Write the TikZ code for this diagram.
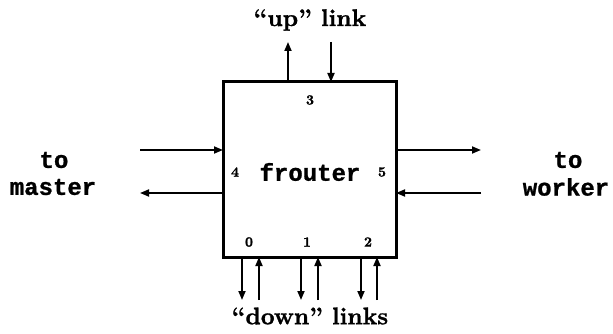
\documentclass[tikz,border=0pt]{standalone}
\usepackage{fontspec}
\newfontfamily\ttbfont{Liberation Mono}[UprightFont=* Bold, FakeBold=1]
\newfontfamily\rmbfont{lmroman10-bold}[Extension=.otf, Ligatures=TeX, FakeBold=1.2]
\usetikzlibrary{arrows.meta}
\begin{document}
\begin{tikzpicture}[x=1pt,y=-1pt,
  link/.style={line width=1.8pt,-{Triangle[length=9pt,width=7pt]}},
  portlbl/.style={font=\fontsize{14}{15}\selectfont\rmbfont,inner sep=0pt},
  ttlbl/.style={font=\fontsize{24}{26}\selectfont\ttbfont,inner sep=0pt},
  rmlbl/.style={font=\fontsize{24}{26}\selectfont\rmbfont,inner sep=0pt}]
\useasboundingbox (0,0) rectangle (613,334);
\node[draw,line width=3pt,minimum width=173pt,minimum height=175pt,inner sep=0pt] (box) at (309.5,169.5) {};
\node[ttlbl] (name) at (310,172) {frouter};
\node[portlbl] (p3) at (310,100) {3};
\node[portlbl] (p4) at (235,172) {4};
\node[portlbl] (p5) at (382,172) {5};
\node[portlbl] (p0) at (249,242) {0};
\node[portlbl] (p1) at (307,242) {1};
\node[portlbl] (p2) at (368,242) {2};
% top
\coordinate (u1a) at (288,82); \coordinate (u1b) at (288,42);
\coordinate (u2a) at (331,42); \coordinate (u2b) at (331,82);
\draw[link] (u1a) -- (u1b);
\draw[link] (u2a) -- (u2b);
\node[rmlbl] (up) at (310,20) {“up” link};
% bottom
\foreach \x/\n in {242/a,301/b,361/c}{
  \coordinate (d\n1) at (\x,257); \coordinate (d\n2) at (\x,300);
  \draw[link] (d\n1) -- (d\n2);
}
\foreach \x/\n in {259/a,318/b,377/c}{
  \coordinate (e\n1) at (\x,300); \coordinate (e\n2) at (\x,257);
  \draw[link] (e\n1) -- (e\n2);
}
\node[rmlbl] (down) at (310,316) {“down” links};
% left
\coordinate (l1a) at (140,150); \coordinate (l1b) at (223,150);
\coordinate (l2a) at (223,193); \coordinate (l2b) at (140,193);
\draw[link] (l1a) -- (l1b);
\draw[link] (l2a) -- (l2b);
\node[ttlbl] (to1) at (54,160) {to};
\node[ttlbl] (master) at (53,187) {master};
% right
\coordinate (r1a) at (396,150); \coordinate (r1b) at (481,150);
\coordinate (r2a) at (481,193); \coordinate (r2b) at (396,193);
\draw[link] (r1a) -- (r1b);
\draw[link] (r2a) -- (r2b);
\node[ttlbl] (to2) at (568,160) {to};
\node[ttlbl] (worker) at (566,187) {worker};
\end{tikzpicture}
\end{document}
